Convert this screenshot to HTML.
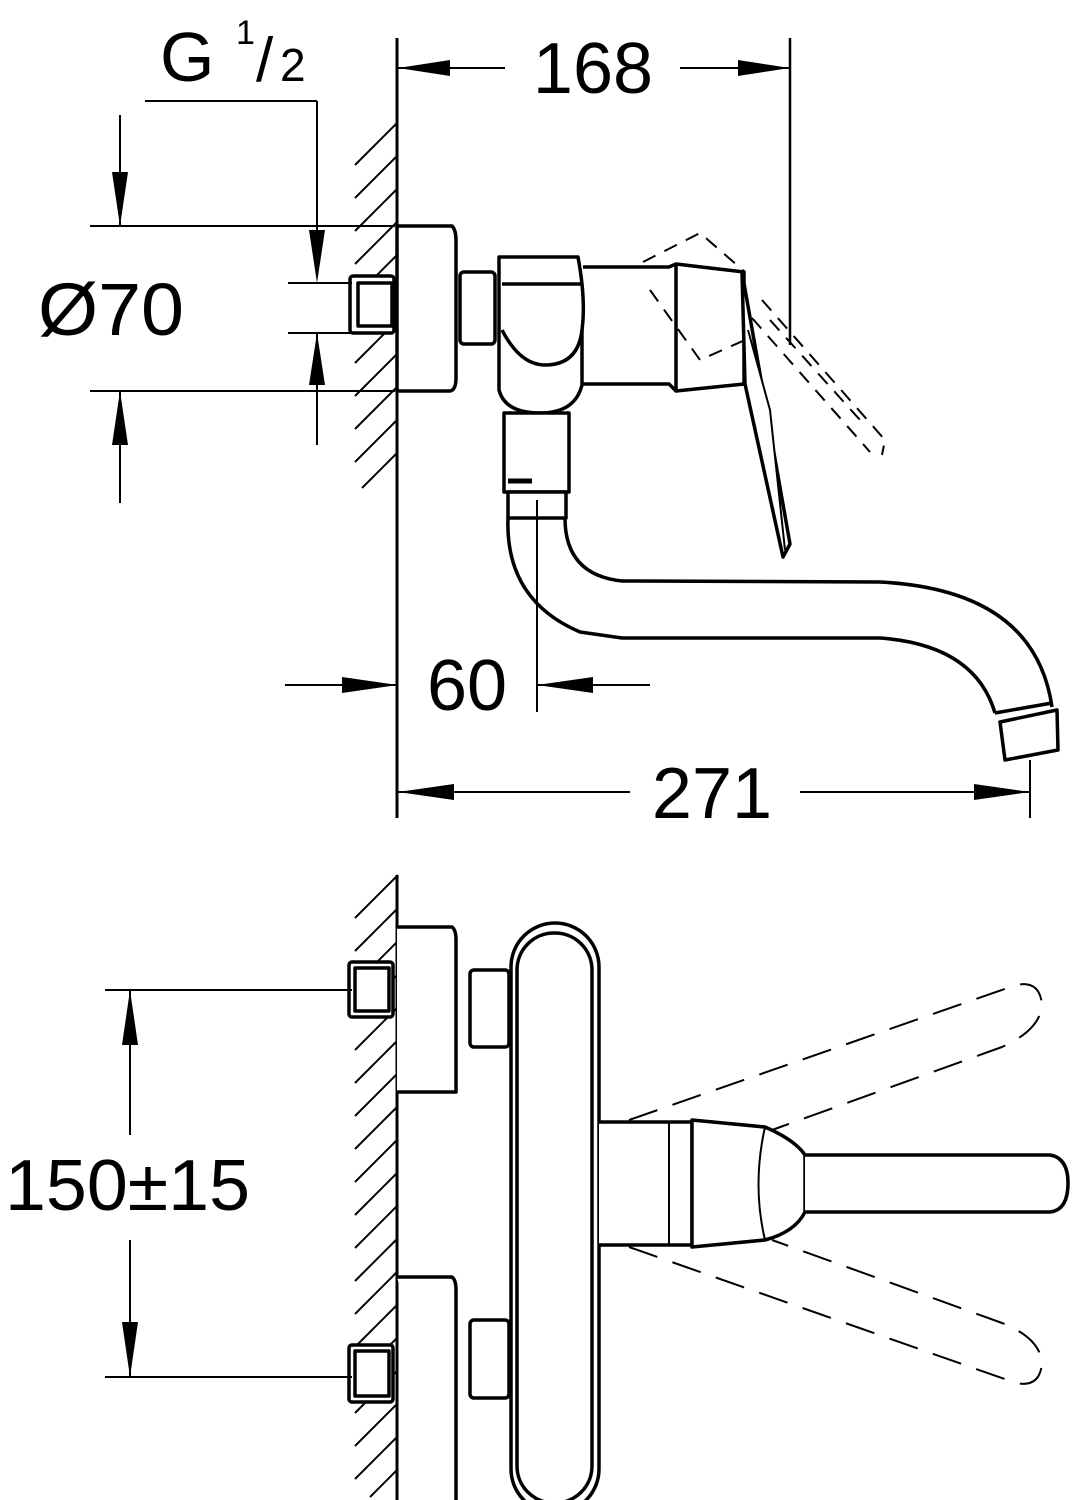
<!DOCTYPE html>
<html><head><meta charset="utf-8"><style>
html,body{margin:0;padding:0;background:#fff}
svg{display:block}
text{font-family:"Liberation Sans",Arial,sans-serif;fill:#000}
</style></head><body>
<svg width="1072" height="1500" viewBox="0 0 1072 1500" xmlns="http://www.w3.org/2000/svg">
<g fill="none" stroke="#000" stroke-linejoin="round">
<!-- hatch regions -->
<g stroke-width="2">
<path d="M355,165 L398,122 M355,198 L398,155 M355,231 L398,188 M355,264 L398,221 M355,297 L398,254 M355,330 L398,287 M355,363 L398,320 M355,396 L398,353 M355,429 L398,386 M355,462 L398,419 M362,488 L398,452"/>
<path d="M355,918 L398,875 M355,951 L398,908 M355,984 L398,941 M355,1017 L398,974 M355,1050 L398,1007 M355,1083 L398,1040 M355,1116 L398,1073 M355,1149 L398,1106 M355,1182 L398,1139 M355,1215 L398,1172 M355,1248 L398,1205 M355,1281 L398,1238 M355,1314 L398,1271 M355,1347 L398,1304 M355,1380 L398,1337 M355,1413 L398,1370 M355,1446 L398,1403 M355,1479 L398,1436 M370,1497 L398,1469"/>
</g>
<!-- walls -->
<line x1="397" y1="38" x2="397" y2="818" stroke-width="3"/>
<line x1="397" y1="875" x2="397" y2="1500" stroke-width="3"/>

<!-- TOP VIEW -->
<g stroke-width="3.5" fill="#fff">
<rect x="350" y="276" width="44" height="57" rx="3"/>
<rect x="358" y="283" width="34" height="43"/>
<path d="M397,226 L452,226 Q456,230 456,240 L456,378 Q456,390 450,391 L397,391 Z"/>
<rect x="460" y="272" width="35" height="72" rx="4"/>
<path d="M583,267 L669,267 L676,264 L744,272 L744,384 L676,391 L669,384 L583,384"/>
<path d="M676,264 L676,391"/>
<path d="M499,257 L578,257 Q586,300 582,330 L582,385 Q575,413 540,413 Q505,413 499,390 Z"/>
<path d="M502,284 L582,284"/>
<path d="M502,330 Q520,365 545,365 Q578,365 582,330"/>
<rect x="504" y="413" width="65" height="79"/>
<line x1="508" y1="481" x2="532" y2="481" stroke-width="5"/>
<rect x="508" y="492" width="58" height="26"/>
</g>
<g stroke-width="3.5">
<path d="M508,518 Q505,600 580,632 L622,638 L880,638 Q975,645 995,713"/>
<path d="M565,518 Q565,575 622,581 L880,582 Q1035,590 1052,707"/>
<path d="M995,713 L1052,703"/>
<path d="M1000,722 L1057,710 L1058,750 L1005,760 Z"/>
</g>
<g stroke-width="3.5" fill="#fff">
<path d="M742,272 L790,544 L783,557 L745,384 Z"/>
<path d="M748,330 L770,410 L785,550" stroke-width="2"/>
</g>
<line x1="537" y1="500" x2="537" y2="712" stroke-width="2"/>
<line x1="790" y1="38" x2="790" y2="345" stroke-width="2.5"/>
<!-- ghost lever top -->
<g stroke-width="2" stroke-dasharray="14,10">
<path d="M643,262 L700,233 L745,272"/>
<path d="M650,290 L700,360 L745,340"/>
<path d="M762,300 L885,440 L882,455"/>
<path d="M752,318 L870,452"/>
<path d="M770,320 L860,420"/>
</g>

<!-- BOTTOM VIEW -->
<g stroke-width="3.5" fill="#fff">
<rect x="349" y="962" width="44" height="55" rx="3"/>
<rect x="355" y="968" width="34" height="43"/>
<rect x="349" y="1345" width="44" height="57" rx="3"/>
<rect x="355" y="1351" width="34" height="45"/>
<path d="M397,927 L452,927 Q456,930 456,940 L456,1092 L397,1092"/>
<path d="M397,1277 L452,1277 Q456,1280 456,1290 L456,1500"/>
<rect x="470" y="970" width="39" height="77" rx="4"/>
<rect x="470" y="1320" width="39" height="78" rx="4"/>
<rect x="511" y="923" width="88" height="590" rx="44"/>
<rect x="517" y="933" width="75" height="570" rx="37"/>
<path d="M599,1122 L692,1122 L692,1245 L599,1245"/>
<line x1="669" y1="1122" x2="669" y2="1245" stroke-width="2"/>
<path d="M692,1120 L765,1127 Q795,1140 805,1155 L805,1212 Q795,1232 765,1240 L692,1247 Z"/>
<path d="M765,1127 Q752,1185 765,1240" stroke-width="2"/>
<path d="M805,1155 L1050,1155 Q1068,1158 1068,1183 Q1068,1210 1050,1212 L805,1212"/>
</g>
<g stroke-width="2" stroke-dasharray="30,16">
<path d="M629,1120 L1016,985 Q1040,980 1042,1005 Q1040,1030 1002,1047 L772,1130"/>
<path d="M629,1247 L1016,1383 Q1040,1388 1042,1363 Q1040,1338 1002,1323 L772,1240"/>
</g>

<!-- dimension lines -->
<g stroke-width="2">
<line x1="398" y1="68" x2="505" y2="68"/><line x1="680" y1="68" x2="790" y2="68"/>
<line x1="145" y1="101" x2="317" y2="101"/><line x1="317" y1="101" x2="317" y2="276"/>
<line x1="317" y1="333" x2="317" y2="445"/>
<line x1="288" y1="283" x2="352" y2="283"/><line x1="288" y1="333" x2="352" y2="333"/>
<line x1="90" y1="226" x2="395" y2="226"/><line x1="90" y1="391" x2="395" y2="391"/>
<line x1="120" y1="115" x2="120" y2="226"/><line x1="120" y1="391" x2="120" y2="503"/>
<line x1="285" y1="685" x2="398" y2="685"/><line x1="537" y1="685" x2="650" y2="685"/>
<line x1="398" y1="792" x2="630" y2="792"/><line x1="800" y1="792" x2="1030" y2="792"/>
<line x1="1030" y1="760" x2="1030" y2="818"/>
<line x1="105" y1="990" x2="352" y2="990"/><line x1="105" y1="1377" x2="352" y2="1377"/>
<line x1="130" y1="990" x2="130" y2="1135"/><line x1="130" y1="1240" x2="130" y2="1377"/>
</g>
</g>
<!-- arrowheads -->
<g fill="#000">
<polygon points="398,68 450,60 450,76"/>
<polygon points="790,68 738,60 738,76"/>
<polygon points="317,283 309,230 325,230"/>
<polygon points="317,333 309,385 325,385"/>
<polygon points="120,226 112,172 128,172"/>
<polygon points="120,391 112,445 128,445"/>
<polygon points="398,685 342,677 342,693"/>
<polygon points="537,685 593,677 593,693"/>
<polygon points="398,792 454,784 454,800"/>
<polygon points="1030,792 974,784 974,800"/>
<polygon points="130,990 122,1045 138,1045"/>
<polygon points="130,1377 122,1322 138,1322"/>
</g>
<!-- labels -->
<text x="593" y="93" font-size="72" text-anchor="middle">168</text>
<text x="160" y="81" font-size="70">G</text>
<text x="236" y="44" font-size="34">1</text>
<text x="256" y="81" font-size="62">/</text>
<text x="280" y="81" font-size="46">2</text>
<text x="38" y="335" font-size="74" textLength="146" lengthAdjust="spacingAndGlyphs">Ø70</text>
<text x="467" y="710" font-size="72" text-anchor="middle">60</text>
<text x="712" y="818" font-size="72" text-anchor="middle">271</text>
<text x="5" y="1210" font-size="72" textLength="245" lengthAdjust="spacingAndGlyphs">150±15</text>
</svg>
</body></html>
